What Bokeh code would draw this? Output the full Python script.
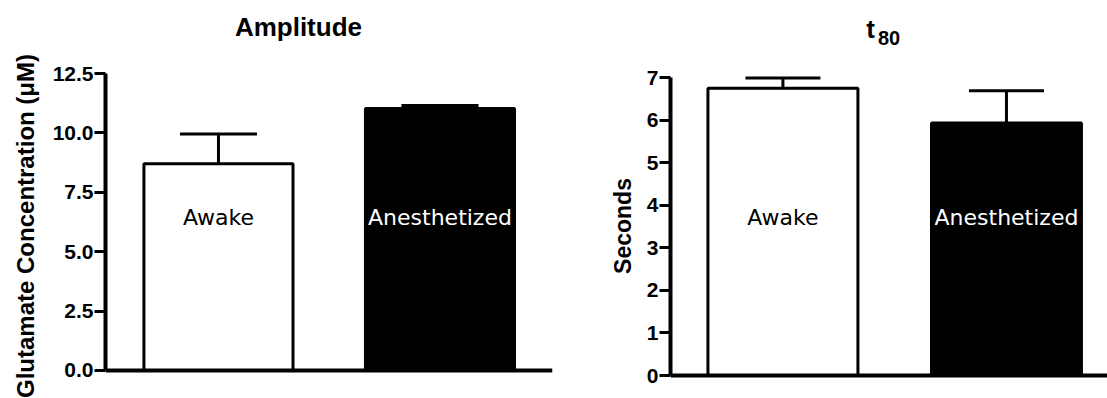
from bokeh.plotting import figure
from bokeh.layouts import row
from bokeh.models import (ColumnDataSource, Range1d, FixedTicker, NumeralTickFormatter,
                          BasicTickFormatter, Whisker, TeeHead, Label, Span, LinearAxis)
from bokeh.embed import file_html
from bokeh.resources import INLINE

# groups and their colours
groups = ["Awake", "Anesthetized"]
bar_fill = ["white", "black"]
label_color = ["black", "white"]

# glutamate amplitude (uM): mean and SEM
amp_mean = [8.70, 11.03]
amp_sem = [1.25, 0.12]
amp_ticks = [0.0, 2.5, 5.0, 7.5, 10.0, 12.5]

# t80 (seconds): mean and SEM
t80_mean = [6.75, 5.93]
t80_sem = [0.24, 0.76]
t80_ticks = [0, 1, 2, 3, 4, 5, 6, 7]

BOLD_FONT = "Liberation Sans"
BAR_LABEL_FONT = "DejaVu Sans"
TOP_BORDER = 73
BOTTOM_BORDER = 20


def make_panel(ylabel, ylabel_size, ylabel_standoff, mean, sem, ticks, formatter,
               width, left_border, right_border, x_range, y_range,
               bar_width, cap_size, group_label_y):
    xs = [i + 1 for i in range(len(groups))]
    src = ColumnDataSource(dict(
        x=xs, top=mean,
        upper=[m + s for m, s in zip(mean, sem)],
        fill=bar_fill, name=groups,
    ))
    p = figure(width=width, height=398, output_backend="svg", toolbar_location=None,
               x_range=Range1d(*x_range), y_range=Range1d(*y_range),
               min_border_left=left_border, min_border_right=right_border,
               min_border_top=TOP_BORDER, min_border_bottom=BOTTOM_BORDER)
    p.outline_line_color = None
    p.xgrid.visible = False
    p.ygrid.visible = False
    p.xaxis.visible = False
    p.background_fill_color = "white"
    p.border_fill_color = "white"

    p.vbar(x="x", top="top", bottom=0, width=bar_width, source=src,
           fill_color="fill", line_color="black", line_width=3)

    p.add_layout(Whisker(base="x", lower="top", upper="upper", source=src,
                         line_color="black", line_width=3,
                         upper_head=TeeHead(size=cap_size, line_width=3,
                                            line_color="black"),
                         lower_head=None))

    # baseline of the bars
    p.add_layout(Span(location=0, dimension="width", line_color="black", line_width=4))

    for x, g, c in zip(xs, groups, label_color):
        p.add_layout(Label(x=x, y=group_label_y, x_units="data", y_units="screen",
                           text=g, text_align="center", text_baseline="alphabetic",
                           text_color=c, text_font=BAR_LABEL_FONT,
                           text_font_size="22px"))

    ya = p.yaxis[0]
    ya.bounds = (ticks[0], ticks[-1])
    ya.ticker = FixedTicker(ticks=ticks)
    ya.formatter = formatter
    ya.axis_label = ylabel
    ya.axis_line_width = 4
    ya.axis_line_color = "black"
    ya.major_tick_line_width = 3
    ya.major_tick_line_color = "black"
    ya.major_tick_out = 11
    ya.major_tick_in = 0
    ya.minor_tick_line_color = None
    ya.major_label_standoff = 1
    ya.major_label_text_font = BOLD_FONT
    ya.major_label_text_font_style = "bold"
    ya.major_label_text_font_size = "21px"
    ya.major_label_text_color = "black"
    ya.axis_label_text_font = BOLD_FONT
    ya.axis_label_text_font_style = "bold"
    ya.axis_label_text_font_size = ylabel_size
    ya.axis_label_text_color = "black"
    ya.axis_label_standoff = ylabel_standoff
    return p


def heading(p, x, text, size, standoff, sub=None, sub_size=None, sub_standoff=0):
    # heading drawn as the single label of a bare axis above the frame;
    # an optional subscript rides on the same axis as its axis label
    ax = LinearAxis(ticker=FixedTicker(ticks=[x]), major_label_overrides={x: text},
                    axis_line_color=None, major_tick_line_color=None,
                    minor_tick_line_color=None, major_tick_out=0, major_tick_in=0,
                    major_label_standoff=standoff,
                    major_label_text_font=BOLD_FONT,
                    major_label_text_font_style="bold",
                    major_label_text_font_size=size,
                    major_label_text_color="black")
    if sub is not None:
        ax.axis_label = sub
        ax.axis_label_standoff = sub_standoff
        ax.axis_label_text_font = BOLD_FONT
        ax.axis_label_text_font_style = "bold"
        ax.axis_label_text_font_size = sub_size
        ax.axis_label_text_color = "black"
    p.add_layout(ax, "above")


p1 = make_panel("Glutamate Concentration (\u03bcM)", "24px", 11,
                amp_mean, amp_sem, amp_ticks, NumeralTickFormatter(format="0.0"),
                590, 105, 38, (0.49, 2.508), (-0.337, 12.5),
                0.673, 77, 161)
heading(p1, 1.361, "Amplitude", "26px", 32)

p2 = make_panel("Seconds", "23px", 8,
                t80_mean, t80_sem, t80_ticks, BasicTickFormatter(),
                517, 80, 0, (0.497, 2.452), (-0.070, 7.094),
                0.671, 75, 161)
heading(p2, 1.392, "t", "26px", 30, sub="80", sub_size="20px", sub_standoff=-34)

layout = row(p1, p2)
open("out.html", "w").write(file_html(layout, INLINE))
